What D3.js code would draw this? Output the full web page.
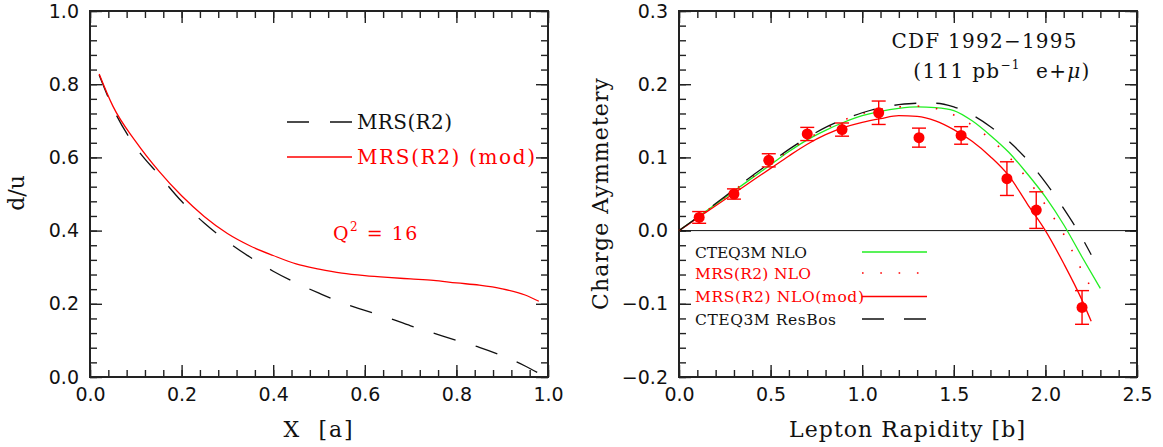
<!DOCTYPE html>
<html>
<head>
<meta charset="utf-8">
<script src="https://cdn.jsdelivr.net/npm/d3@7"></script>
<style>
  body { margin: 0; background: #fff; }
  svg { display: block; }
  .tick text { font-family: "DejaVu Sans", sans-serif; font-size: 19px; fill: #111; }
  .lbl { font-family: "DejaVu Serif", serif; white-space: pre; }
</style>
</head>
<body>
<svg id="chart" width="1163" height="447"></svg>
<script>
// ---- panel a : d/u ratio vs x ----
var xGrid = [0.02, 0.05, 0.10, 0.15, 0.20, 0.25, 0.30, 0.35, 0.40, 0.45, 0.50,
             0.55, 0.60, 0.65, 0.70, 0.75, 0.80, 0.85, 0.90, 0.95, 0.98];
var duR2    = [0.825, 0.735, 0.628, 0.553, 0.480, 0.420, 0.370, 0.327, 0.289, 0.257, 0.229,
               0.203, 0.182, 0.162, 0.140, 0.120, 0.100, 0.081, 0.058, 0.030, 0.010];
var duR2mod = [0.828, 0.740, 0.643, 0.563, 0.495, 0.438, 0.392, 0.358, 0.332, 0.309, 0.295,
               0.284, 0.277, 0.272, 0.268, 0.264, 0.257, 0.251, 0.241, 0.224, 0.207];
var xTicksA = [0.0, 0.2, 0.4, 0.6, 0.8, 1.0];
var yTicksA = [0.0, 0.2, 0.4, 0.6, 0.8, 1.0];

// ---- panel b : charge asymmetry vs lepton rapidity ----
var yCteqX   = [0, 0.1, 0.2, 0.3, 0.4, 0.5, 0.6, 0.7, 0.8, 0.9, 1.0, 1.1, 1.2, 1.3, 1.4, 1.5,
                1.6, 1.7, 1.8, 1.9, 2.0, 2.1, 2.2, 2.3];
var asCteq   = [0, 0.018, 0.036, 0.054, 0.072, 0.090, 0.108, 0.124, 0.137, 0.148, 0.157, 0.163,
                0.167, 0.169, 0.168, 0.164, 0.150, 0.130, 0.107, 0.078, 0.046, 0.008, -0.036, -0.079];
var yMrsX    = [0, 0.1, 0.2, 0.3, 0.4, 0.5, 0.6, 0.7, 0.8, 0.9, 1.0, 1.1, 1.2, 1.3, 1.4, 1.5,
                1.6, 1.7, 1.8, 1.9, 2.0, 2.1, 2.2, 2.26];
var asMrs    = [0, 0.018, 0.036, 0.055, 0.073, 0.091, 0.109, 0.125, 0.139, 0.151, 0.160, 0.166,
                0.169, 0.170, 0.167, 0.158, 0.144, 0.125, 0.101, 0.071, 0.035, -0.005, -0.055, -0.083];
var yModX    = [0, 0.1, 0.2, 0.3, 0.4, 0.5, 0.6, 0.7, 0.8, 0.9, 1.0, 1.1, 1.2, 1.3, 1.4, 1.5,
                1.6, 1.7, 1.8, 1.9, 2.0, 2.1, 2.2, 2.25];
var asMrsMod = [0, 0.017, 0.034, 0.051, 0.068, 0.085, 0.102, 0.118, 0.131, 0.141, 0.148, 0.153,
                0.157, 0.156, 0.150, 0.138, 0.122, 0.101, 0.075, 0.037, 0.0, -0.045, -0.095, -0.124];
var yResX    = [0, 0.1, 0.2, 0.3, 0.4, 0.5, 0.6, 0.7, 0.8, 0.9, 1.0, 1.1, 1.2, 1.3, 1.4, 1.5,
                1.6, 1.7, 1.8, 1.9, 2.0, 2.1, 2.2, 2.25];
var asResBos = [0, 0.018, 0.037, 0.056, 0.075, 0.093, 0.111, 0.127, 0.141, 0.152, 0.161, 0.168,
                0.172, 0.174, 0.174, 0.169, 0.158, 0.142, 0.122, 0.097, 0.066, 0.030, -0.010, -0.033];
// CDF data
var cdfY   = [0.11, 0.30, 0.49, 0.70, 0.89, 1.09, 1.31, 1.54, 1.79, 1.95, 2.20];
var cdfA   = [0.018, 0.050, 0.096, 0.132, 0.138, 0.161, 0.127, 0.130, 0.071, 0.028, -0.105];
var cdfErr = [0.008, 0.007, 0.009, 0.009, 0.009, 0.016, 0.013, 0.012, 0.023, 0.025, 0.023];
var xTicksB = [0.0, 0.5, 1.0, 1.5, 2.0, 2.5];
var yTicksB = [-0.2, -0.1, 0.0, 0.1, 0.2, 0.3];

var RED = "#ff0000", GREEN = "#22ee22";
var svg = d3.select("#chart");
var top_ = 11, bottom = 377;

function minors(lo, hi, step){
    var out = [];
    var n = Math.round((hi - lo) / step);
    for (var i = 0; i <= n; i++) out.push(+(lo + i * step).toFixed(4));
    return out;
}

// frame with inward ticks on all four sides
function frame(x, y, xMaj, yMaj, xMin, yMin){
    var fmt = d3.format(".1f");
    var g = svg.append("g");
    var x0 = x.range()[0], x1 = x.range()[1];

    function ax(axis, tr, vals, size, lab){
        var a = axis.tickValues(vals).tickSize(size).tickPadding(lab ? 11 : 0)
            .tickFormat(lab ? fmt : "");
        var s = g.append("g").attr("transform", tr).call(a);
        s.select(".domain").remove();
        s.selectAll(".tick line").attr("stroke", "#222").attr("stroke-width", 1.4);
        return s;
    }
    ax(d3.axisBottom(x), "translate(0," + bottom + ")", xMaj, -12, true);
    ax(d3.axisBottom(x), "translate(0," + bottom + ")", xMin, -7, false);
    ax(d3.axisTop(x), "translate(0," + top_ + ")", xMaj, -12, false);
    ax(d3.axisTop(x), "translate(0," + top_ + ")", xMin, -7, false);
    ax(d3.axisLeft(y), "translate(" + x0 + ",0)", yMaj, -12, true);
    ax(d3.axisLeft(y), "translate(" + x0 + ",0)", yMin, -7, false);
    ax(d3.axisRight(y), "translate(" + x1 + ",0)", yMaj, -12, false);
    ax(d3.axisRight(y), "translate(" + x1 + ",0)", yMin, -7, false);

    g.append("rect").attr("x", x0).attr("y", top_)
        .attr("width", x1 - x0).attr("height", bottom - top_)
        .attr("fill", "none").attr("stroke", "#222").attr("stroke-width", 2);
}

function curve(x, y, xs, ys, color, dash, w){
    var line = d3.line().x(function(d){ return x(d[0]); }).y(function(d){ return y(d[1]); })
        .curve(d3.curveMonotoneX);
    svg.append("path").datum(d3.zip(xs, ys)).attr("d", line)
        .attr("fill", "none").attr("stroke", color).attr("stroke-width", w || 1.3)
        .attr("stroke-dasharray", dash || null);
}

function text(x, y, s, size, color, anchor, len){
    var t = svg.append("text").attr("class", "lbl").attr("x", x).attr("y", y)
        .attr("font-size", size).attr("fill", color || "#111")
        .attr("text-anchor", anchor || "start").text(s);
    if (len) t.attr("textLength", len).attr("lengthAdjust", "spacing");
    return t;
}

// ---------- panel a ----------
var xa = d3.scaleLinear().domain([0, 1]).range([90, 548]);
var ya = d3.scaleLinear().domain([0, 1]).range([bottom, top_]);
frame(xa, ya, xTicksA, yTicksA, minors(0, 1, 0.04), minors(0, 1, 0.04));

curve(xa, ya, xGrid, duR2, "#111", "23,21");
curve(xa, ya, xGrid, duR2mod, RED);

svg.append("line").attr("x1", 287).attr("x2", 352).attr("y1", 122).attr("y2", 122)
    .attr("stroke", "#111").attr("stroke-width", 1.3).attr("stroke-dasharray", "22,21");
text(357, 129, "MRS(R2)", 20, "#111", "start", 95);
svg.append("line").attr("x1", 287).attr("x2", 352).attr("y1", 157).attr("y2", 157)
    .attr("stroke", RED).attr("stroke-width", 1.3);
text(357, 164, "MRS(R2) (mod)", 20, RED, "start", 178);

var q = text(333, 240, "Q", 19, RED).attr("letter-spacing", 1.5);
q.append("tspan").attr("dy", -9).attr("font-size", 12).text("2");
q.append("tspan").attr("dy", 9).text(" = 16");

text(318, 437, "X  [a]", 22, "#111", "middle", 69);
text(0, 0, "d/u", 22, "#111", "middle")
    .attr("transform", "translate(24,193) rotate(-90)");

// ---------- panel b ----------
var xb = d3.scaleLinear().domain([0, 2.5]).range([679, 1137]);
var yb = d3.scaleLinear().domain([-0.2, 0.3]).range([bottom, top_]);
frame(xb, yb, xTicksB, yTicksB, minors(0, 2.5, 0.1), minors(-0.2, 0.3, 0.02));

svg.append("line").attr("x1", xb(0)).attr("x2", xb(2.5)).attr("y1", yb(0)).attr("y2", yb(0))
    .attr("stroke", "#111").attr("stroke-width", 1);

curve(xb, yb, yCteqX, asCteq, GREEN);
curve(xb, yb, yMrsX, asMrs, RED, "1.6,16.7", 1.6);
curve(xb, yb, yModX, asMrsMod, RED);
curve(xb, yb, yResX, asResBos, "#111", "22,20");

// error bars + points
var pts = d3.range(cdfY.length).map(function(i){ return { x: cdfY[i], a: cdfA[i], e: cdfErr[i] }; });
var eb = svg.append("g").selectAll("g").data(pts).enter().append("g")
    .attr("stroke", RED).attr("stroke-width", 1.4);
eb.append("line").attr("x1", function(d){ return xb(d.x); }).attr("x2", function(d){ return xb(d.x); })
    .attr("y1", function(d){ return yb(d.a - d.e); }).attr("y2", function(d){ return yb(d.a + d.e); });
eb.append("line").attr("x1", function(d){ return xb(d.x) - 7; }).attr("x2", function(d){ return xb(d.x) + 7; })
    .attr("y1", function(d){ return yb(d.a - d.e); }).attr("y2", function(d){ return yb(d.a - d.e); });
eb.append("line").attr("x1", function(d){ return xb(d.x) - 7; }).attr("x2", function(d){ return xb(d.x) + 7; })
    .attr("y1", function(d){ return yb(d.a + d.e); }).attr("y2", function(d){ return yb(d.a + d.e); });
svg.append("g").selectAll("circle").data(pts).enter().append("circle")
    .attr("cx", function(d){ return xb(d.x); }).attr("cy", function(d){ return yb(d.a); })
    .attr("r", 5.5).attr("fill", RED);

// legend
var legB = [
    { t: "CTEQ3M NLO", c: "#111", s: GREEN, d: null, w: 1.3, y: 252, len: 112 },
    { t: "MRS(R2) NLO", c: RED, s: RED, d: "1.6,16.7", w: 1.6, y: 273, len: 116 },
    { t: "MRS(R2) NLO(mod)", c: RED, s: RED, d: null, w: 1.3, y: 296.5, len: 169 },
    { t: "CTEQ3M ResBos", c: "#111", s: "#111", d: "22,20", w: 1.3, y: 319, len: 141 }
];
legB.forEach(function(l){
    svg.append("line").attr("x1", 862).attr("x2", 927).attr("y1", l.y).attr("y2", l.y)
        .attr("stroke", l.s).attr("stroke-width", l.w).attr("stroke-dasharray", l.d);
    text(695, l.y + 5.5, l.t, 15.5, l.c, "start", l.len);
});

text(984, 48, "CDF 1992\u22121995", 20, "#111", "middle", 185);
var lum = text(1002, 78, "(111 pb", 20, "#111", "middle").attr("letter-spacing", 1.3);
lum.append("tspan").attr("dy", -9).attr("font-size", 12).text("\u22121");
lum.append("tspan").attr("dy", 9).text("  e+");
lum.append("tspan").attr("font-style", "italic").text("\u03bc");
lum.append("tspan").text(")");

text(907, 437, "Lepton Rapidity [b]", 22, "#111", "middle", 236);
text(0, 0, "Charge Aymmetery", 22, "#111", "middle", 232)
    .attr("transform", "translate(608,194) rotate(-90)");
</script>
</body>
</html>
